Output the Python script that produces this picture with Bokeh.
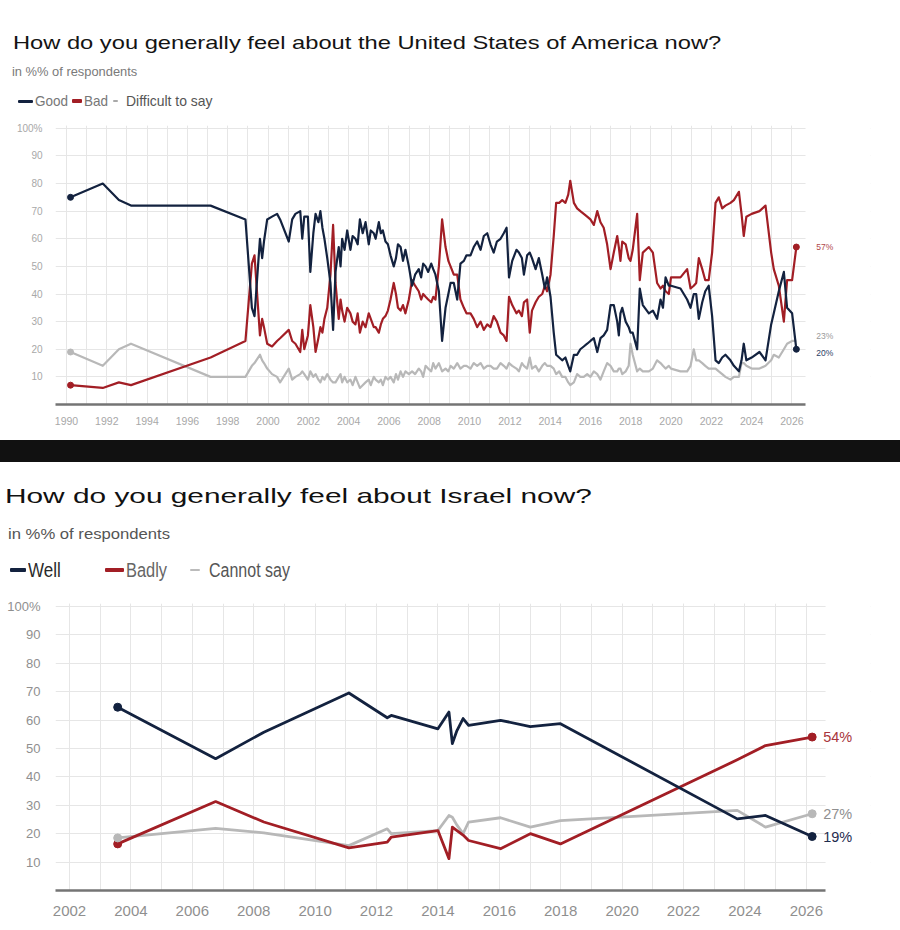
from bokeh.core.properties import value
from bokeh.plotting import figure
from bokeh.models import (ColumnDataSource, Range1d, FixedTicker, LabelSet, Div, BoxAnnotation)
from bokeh.layouts import column
from bokeh.embed import file_html
from bokeh.resources import INLINE

# ---------------- data: attitude towards the USA ----------------
us_title = "How do you generally feel about the United States of America now?"
us_series = ["Good", "Bad", "Difficult to say"]
us_year = [1990.2, 1991.8, 1992.6, 1993.2, 1997.15, 1998.88, 1999.2, 1999.33, 1999.6, 1999.71,
           1999.8, 1999.96, 2000.2, 2000.45, 2000.6, 2001.03, 2001.2, 2001.36, 2001.6, 2001.7,
           2001.8, 2001.98, 2002.1, 2002.25, 2002.36, 2002.5, 2002.6, 2002.7, 2002.8, 2002.94,
           2003.1, 2003.23, 2003.35, 2003.51, 2003.6, 2003.68, 2003.8, 2003.93, 2004.09, 2004.2,
           2004.34, 2004.45, 2004.56, 2004.7, 2004.84, 2005.0, 2005.1, 2005.25, 2005.34, 2005.5,
           2005.6, 2005.7, 2005.83, 2005.95, 2006.08, 2006.24, 2006.35, 2006.45, 2006.58, 2006.7,
           2006.82, 2006.99, 2007.15, 2007.3, 2007.48, 2007.6, 2007.7, 2007.82, 2007.95, 2008.1,
           2008.2, 2008.31, 2008.48, 2008.64, 2008.81, 2008.95, 2009.06, 2009.22, 2009.39, 2009.55,
           2009.72, 2009.85, 2010.05, 2010.21, 2010.38, 2010.55, 2010.71, 2010.88, 2011.04, 2011.2,
           2011.36, 2011.54, 2011.7, 2011.84, 2011.96, 2012.12, 2012.33, 2012.45, 2012.6, 2012.7,
           2012.86, 2012.99, 2013.1, 2013.28, 2013.44, 2013.61, 2013.74, 2013.85, 2014.02, 2014.18,
           2014.3, 2014.45, 2014.6, 2014.76, 2014.9, 2015.0, 2015.18, 2015.34, 2015.5, 2015.67,
           2015.84, 2016.0, 2016.17, 2016.34, 2016.5, 2016.66, 2016.83, 2017.0, 2017.16, 2017.33,
           2017.41, 2017.49, 2017.58, 2017.75, 2017.9, 2017.99, 2018.1, 2018.32, 2018.45, 2018.6,
           2018.9, 2019.1, 2019.31, 2019.48, 2019.6, 2019.73, 2019.89, 2020.0, 2020.47, 2020.8,
           2020.97, 2021.13, 2021.25, 2021.38, 2021.55, 2021.7, 2021.87, 2022.04, 2022.21, 2022.37,
           2022.54, 2022.7, 2022.95, 2023.12, 2023.37, 2023.5, 2023.61, 2023.74, 2024.0, 2024.39,
           2024.69, 2024.97, 2025.1, 2025.35, 2025.6, 2025.76, 2026.01, 2026.22]
us_good = [75, 80, 74, 72, 72, 67, 35, 32, 60, 53,
           59, 67, 68, 69, 67, 59, 67, 69, 70, 60,
           68, 68, 48, 62, 69, 66, 70, 64, 60, 53,
           44, 27, 48, 57, 50, 60, 56, 63, 56, 61,
           60, 58, 67, 62, 66, 58, 63, 62, 60, 66,
           62, 63, 59, 58, 54, 50, 53, 58, 57, 52,
           56, 50, 43, 47, 49, 46, 51, 50, 48, 51,
           49, 47, 41, 23, 35, 40, 44, 44, 38, 51,
           52, 54, 54, 57, 59, 56, 61, 62, 58, 55,
           59, 60, 62, 64, 46, 52, 56, 55, 53, 47,
           54, 55, 53, 49, 53, 47, 42, 46, 39, 26,
           18, 17, 16, 17, 14, 12, 18, 18, 20, 21,
           22, 23, 24, 19, 24, 25, 27, 36, 36, 30,
           25, 33, 35, 30, 28, 26, 26, 20, 42, 36,
           33, 34, 31, 38, 35, 46, 43, 43, 42, 38,
           35, 40, 40, 31, 37, 41, 43, 32, 16, 15,
           17, 18, 16, 14, 12, 16, 22, 16, 17, 19,
           16, 29, 33, 41, 48, 35, 33, 20]
us_bad = [7, 6, 8, 7, 17, 23, 51, 54, 25, 31,
          28, 22, 21, 23, 24, 27, 23, 22, 19, 27,
          20, 25, 36, 28, 19, 24, 28, 26, 31, 35,
          47, 65, 44, 31, 38, 34, 30, 35, 33, 30,
          29, 33, 26, 30, 28, 33, 31, 28, 28, 26,
          29, 31, 32, 34, 38, 44, 40, 35, 34, 36,
          33, 38, 45, 43, 41, 38, 40, 39, 38, 37,
          39, 38, 50, 67, 57, 52, 50, 47, 47, 38,
          35, 33, 33, 31, 28, 30, 27, 29, 28, 32,
          30, 26, 25, 23, 39, 36, 33, 34, 32, 37,
          38, 26, 34, 37, 39, 40, 43, 41, 47, 61,
          73, 73, 74, 73, 76, 81, 73, 71, 70, 69,
          68, 67, 65, 70, 66, 64, 58, 49, 55, 61,
          57, 52, 59, 58, 53, 52, 56, 69, 45, 55,
          57, 55, 44, 42, 43, 41, 40, 46, 46, 49,
          42, 43, 44, 53, 49, 45, 45, 55, 73, 75,
          71, 72, 73, 74, 77, 69, 61, 68, 69, 70,
          72, 55, 49, 43, 30, 45, 45, 57]
us_dk = [19, 14, 20, 22, 10, 10, 14, 15, 18, 16,
         15, 13, 11, 10, 8, 13, 9, 10, 11, 12,
         11, 9, 12, 10, 11, 9, 8, 10, 9, 11,
         9, 8, 8, 10, 11, 8, 10, 8, 9, 7,
         10, 8, 6, 7, 8, 9, 7, 10, 9, 8,
         9, 7, 10, 9, 10, 8, 11, 9, 12, 10,
         12, 11, 12, 11, 13, 12, 10, 14, 13, 12,
         15, 13, 15, 12, 13, 12, 14, 13, 15, 13,
         14, 14, 13, 15, 14, 15, 13, 14, 14, 13,
         13, 15, 14, 13, 15, 14, 13, 12, 15, 14,
         13, 17, 13, 14, 12, 14, 15, 14, 14, 13,
         11, 12, 10, 10, 8, 7, 8, 11, 10, 10,
         11, 10, 12, 11, 9, 12, 15, 14, 12, 12,
         13, 13, 11, 12, 14, 22, 18, 12, 13, 12,
         12, 13, 16, 15, 14, 13, 14, 13, 12, 12,
         14, 20, 16, 16, 15, 14, 13, 13, 13, 12,
         11, 10, 9, 10, 10, 15, 15, 14, 13, 13,
         14, 16, 18, 17, 20, 22, 23, 23]
us_xticks = [1990, 1992, 1994, 1996, 1998, 2000, 2002, 2004, 2006, 2008, 2010,
             2012, 2014, 2016, 2018, 2020, 2022, 2024, 2026]
us_xminor = [1990, 1991, 1992, 1993, 1994, 1995, 1996, 1997, 1998, 1999, 2000, 2001,
             2002, 2003, 2004, 2005, 2006, 2007, 2008, 2009, 2010, 2011, 2012, 2013,
             2014, 2015, 2016, 2017, 2018, 2019, 2020, 2021, 2022, 2023, 2024, 2025, 2026]

# ---------------- data: attitude towards Israel ----------------
il_title = "How do you generally feel about Israel now?"
il_series = ["Well", "Badly", "Cannot say"]
il_year = [2003.57, 2006.76, 2008.33, 2011.1, 2012.35, 2012.48, 2014.0, 2014.36, 2014.47,
           2014.62, 2014.82, 2015.0, 2016.04, 2017.01, 2017.99, 2023.75, 2024.67, 2026.19]
il_well = [64.5, 46.4, 55.7, 69.5, 60.8, 61.6, 56.9, 62.8, 51.7,
           56.3, 60.5, 58.1, 59.9, 57.7, 58.7, 25.2, 26.4, 19]
il_badly = [16.4, 31.3, 24.1, 15, 17, 18.8, 21.1, 11.2, 22.3,
            21.1, 19.5, 17.6, 14.7, 20, 16.4, 46, 51, 54]
il_cannot = [18.5, 21.9, 20.3, 15.8, 21.7, 20, 21.1, 26.4, 25.8,
             23, 20, 24.1, 25.6, 22.3, 24.6, 28.2, 22.3, 27]
il_xticks = [2002, 2004, 2006, 2008, 2010, 2012, 2014, 2016, 2018, 2020, 2022, 2024, 2026]
il_xminor = [2002, 2003, 2004, 2005, 2006, 2007, 2008, 2009, 2010, 2011, 2012, 2013, 2014,
             2015, 2016, 2017, 2018, 2019, 2020, 2021, 2022, 2023, 2024, 2025, 2026]

subtitle = "in %% of respondents"
y_ticks = [10, 20, 30, 40, 50, 60, 70, 80, 90, 100]

NAVY = "#13223f"
RED = "#a21e25"
GREY = "#b8b8b8"
GRID = "#e6e6e6"
FONT = "'Liberation Sans', Arial, sans-serif"


# ---------------- HTML header helpers ----------------
def txt(s, left, cy, size, color, scale=1.0, lh=None):
    lh = lh or int(size * 1.3)
    return (f'<div style="position:absolute;left:{left}px;top:{cy - lh / 2}px;height:{lh}px;'
            f'line-height:{lh}px;font-size:{size}px;color:{color};white-space:nowrap;'
            f'transform:scaleX({scale});transform-origin:0 50%;">{s}</div>')


def swatch(left, cy, w, h, color):
    return (f'<div style="position:absolute;left:{left}px;top:{cy - h / 2}px;width:{w}px;'
            f'height:{h}px;background:{color};border-radius:1px;"></div>')


def box(h, inner, extra=""):
    return (f'<div style="position:relative;width:900px;height:{h}px;overflow:hidden;'
            f'background:#ffffff;font-family:{FONT};margin:0;padding:0;">{extra}{inner}</div>')


def style_axes(p, xticks, xminor, xfont, yfont, xstand, ystand, lab_color, xb):
    p.outline_line_color = None
    p.xaxis.ticker = FixedTicker(ticks=xticks, minor_ticks=xminor)
    p.yaxis.ticker = FixedTicker(ticks=y_ticks)
    p.yaxis.major_label_overrides = {100: "100%"}
    p.xgrid.grid_line_color = GRID
    p.xgrid.minor_grid_line_color = GRID
    p.ygrid.grid_line_color = GRID
    p.xaxis.axis_line_color = "#747474"
    p.xaxis.axis_line_width = 2.5
    p.xaxis.bounds = xb
    p.yaxis.axis_line_color = None
    for ax in (p.xaxis, p.yaxis):
        ax.major_tick_line_color = None
        ax.minor_tick_line_color = None
        ax.major_label_text_color = lab_color
        ax.major_label_text_font = "Liberation Sans"
    p.xaxis.major_label_text_font_size = xfont
    p.yaxis.major_label_text_font_size = yfont
    p.xaxis.major_label_standoff = xstand
    p.yaxis.major_label_standoff = ystand
    # white mask hides the grid to the right of the chart area (room for end labels)
    p.add_layout(BoxAnnotation(left=xb[1], fill_color="white", fill_alpha=1.0,
                               line_alpha=0, level="underlay"))


# ================= top header =================
head1 = Div(width=900, height=120, margin=0, text=box(120, "".join([
    txt(us_title, 13, 43, 18.5, "#141414", 1.28, 24),
    txt(subtitle, 12, 72, 12.5, "#7a7a7a", 1.03, 16),
    swatch(18, 101, 15, 3, NAVY), txt(us_series[0], 35, 101, 15, "#777777", 0.9, 20),
    swatch(72, 101, 10, 4, RED), txt(us_series[1], 84, 101, 15, "#777777", 0.9, 20),
    swatch(113, 101, 5, 2, "#a9a9a9"), txt(us_series[2], 126, 101, 15, "#555555", 0.93, 20),
])))

# ================= top chart =================
x1_lo, x1_mask, x1_hi = 1989.454, 2026.676, 2029.90
p1 = figure(width=900, height=320, x_range=Range1d(x1_lo, x1_hi), y_range=Range1d(0, 101),
            output_backend="svg", toolbar_location=None, title=None, margin=0,
            min_border_left=55, min_border_right=30, min_border_top=5, min_border_bottom=36)
style_axes(p1, us_xticks, us_xminor, "10.5px", "10px", 6, 7, "#a8a8a8", (x1_lo, x1_mask))

src1 = ColumnDataSource(dict(t=us_year, good=us_good, bad=us_bad, dk=us_dk))
p1.line("t", "dk", source=src1, line_color=GREY, line_width=2.2, line_join="round")
p1.line("t", "bad", source=src1, line_color=RED, line_width=2.2, line_join="round")
p1.line("t", "good", source=src1, line_color=NAVY, line_width=2.2, line_join="round")

dots1 = ColumnDataSource(dict(
    t=[us_year[0], us_year[0], us_year[0], us_year[-1], us_year[-1]],
    v=[us_good[0], us_bad[0], us_dk[0], us_bad[-1], us_good[-1]],
    c=[NAVY, RED, GREY, RED, NAVY]))
p1.scatter("t", "v", source=dots1, size=6, color="c")

ends1 = ColumnDataSource(dict(
    t=[us_year[-1]] * 3,
    v=[us_bad[-1], us_dk[-1], us_good[-1]],
    txt=[f"{us_bad[-1]}%", f"{us_dk[-1]}%", f"{us_good[-1]}%"],
    c=["#b0474c", "#9a9a9a", "#2c3e66"],
    dy=[0, 5, -4]))
p1.add_layout(LabelSet(x="t", y="v", text="txt", source=ends1, x_offset=20, y_offset="dy",
                       text_color="c", text_font=value("Liberation Sans"),
                       text_font_size="8.5px", text_baseline="middle"))

# ================= separator + bottom header =================
head2 = Div(width=900, height=158, margin=0, text=box(158, "".join([
    txt(il_title, 5, 56, 21, "#111111", 1.42, 28),
    txt(subtitle, 8, 94, 14, "#555555", 1.19, 18),
    swatch(10, 130, 16, 3.5, NAVY), txt(il_series[0], 28, 130, 20, "#2a2a2a", 0.85, 24),
    swatch(105, 130, 19, 3.5, RED), txt(il_series[1], 126, 130, 20, "#666666", 0.82, 24),
    swatch(190, 130, 10, 2, "#bbbbbb"), txt(il_series[2], 209, 130, 20, "#555555", 0.8, 24),
]), extra='<div style="position:absolute;left:0;top:0;width:900px;height:22px;'
          'background:#111111;"></div>'))

# ================= bottom chart =================
x2_lo, x2_mask, x2_hi = 2001.544, 2026.626, 2028.09
p2 = figure(width=900, height=332, x_range=Range1d(x2_lo, x2_hi), y_range=Range1d(0, 101),
            output_backend="svg", toolbar_location=None, title=None, margin=0,
            min_border_left=55, min_border_right=30, min_border_top=5, min_border_bottom=40)
style_axes(p2, il_xticks, il_xminor, "15px", "13px", 9, 9, "#8f8f8f", (x2_lo, x2_mask))

src2 = ColumnDataSource(dict(t=il_year, well=il_well, badly=il_badly, cannot=il_cannot))
p2.line("t", "cannot", source=src2, line_color=GREY, line_width=2.8, line_join="round")
p2.line("t", "badly", source=src2, line_color=RED, line_width=2.8, line_join="round")
p2.line("t", "well", source=src2, line_color=NAVY, line_width=2.8, line_join="round")

dots2 = ColumnDataSource(dict(
    t=[il_year[0], il_year[0], il_year[0], il_year[-1], il_year[-1], il_year[-1]],
    v=[il_well[0], il_badly[0], il_cannot[0], il_well[-1], il_badly[-1], il_cannot[-1]],
    c=[NAVY, RED, GREY, NAVY, RED, GREY]))
p2.scatter("t", "v", source=dots2, size=8, color="c")

ends2 = ColumnDataSource(dict(
    t=[il_year[-1]] * 3,
    v=[il_badly[-1], il_cannot[-1], il_well[-1]],
    txt=[f"{round(il_badly[-1])}%", f"{round(il_cannot[-1])}%", f"{round(il_well[-1])}%"],
    c=["#a8363c", "#8f8f8f", "#1f2d4f"]))
p2.add_layout(LabelSet(x="t", y="v", text="txt", source=ends2, x_offset=11,
                       text_color="c", text_font=value("Liberation Sans"),
                       text_font_size="14.5px", text_baseline="middle"))

layout = column(head1, p1, head2, p2, spacing=0, margin=0)
open("out.html", "w").write(file_html(layout, INLINE))
